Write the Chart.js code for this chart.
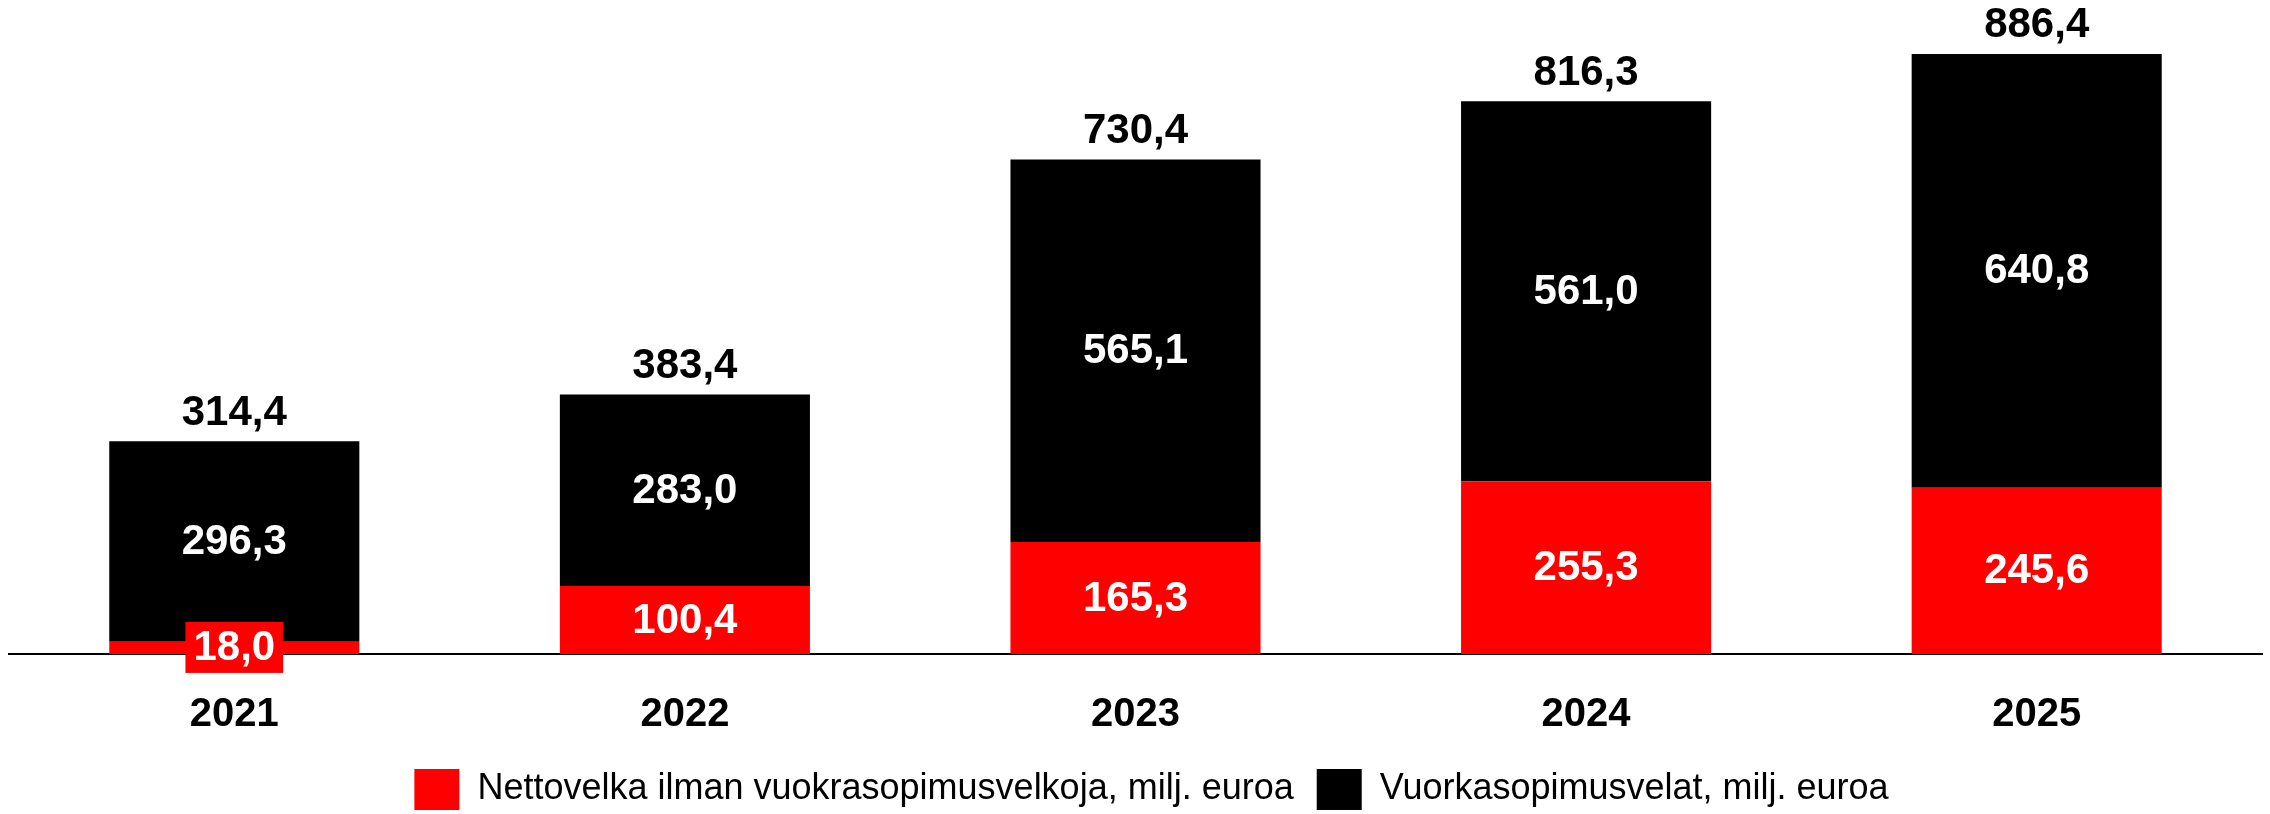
<!DOCTYPE html>
<html>
<head>
<meta charset="utf-8">
<script src="https://cdn.jsdelivr.net/npm/chart.js@4"></script>
<style>
  html, body { margin: 0; padding: 0; background: #fff; }
  #wrap { width: 2270px; height: 814px; }
</style>
</head>
<body>
<div id="wrap"><canvas id="myChart" width="2270" height="814"></canvas></div>
<script>
const years = ["2021", "2022", "2023", "2024", "2025"];
const nettovelka = [18.0, 100.4, 165.3, 255.3, 245.6];
const vuokrasopimus = [296.3, 283.0, 565.1, 561.0, 640.8];
const totals = [314.4, 383.4, 730.4, 816.3, 886.4];

const FONT = "'Liberation Sans', Arial, sans-serif";

function fi(v) {
  return v.toFixed(1).replace(".", ",");
}

// value labels inside the segments and totals above the bars
const barLabels = {
  id: "barLabels",
  afterLayout(chart) {
    // legend sits a bit right of centre in the original
    chart.legend.left += 16;
    chart.legend.right += 16;
  },
  afterDatasetsDraw(chart) {
    const ctx = chart.ctx;
    ctx.save();
    ctx.font = "bold 42px " + FONT;
    ctx.textAlign = "center";
    ctx.textBaseline = "middle";
    chart.data.datasets.forEach((ds, i) => {
      const meta = chart.getDatasetMeta(i);
      meta.data.forEach((bar, j) => {
        const txt = fi(ds.data[j]);
        const cy = (bar.y + bar.base) / 2;
        const h = Math.abs(bar.base - bar.y);
        if (h < 40) {
          const w = ctx.measureText(txt).width + 16;
          ctx.fillStyle = ds.backgroundColor;
          ctx.fillRect(bar.x - w / 2, cy - 26, w, 51);
        }
        ctx.fillStyle = "#fff";
        ctx.fillText(txt, bar.x, cy + 1);
      });
    });
    const top = chart.getDatasetMeta(chart.data.datasets.length - 1);
    ctx.fillStyle = "#000";
    top.data.forEach((bar, j) => {
      ctx.fillText(fi(totals[j]), bar.x, bar.y - 28);
    });
    ctx.restore();
  },
};

var ctx = document.getElementById("myChart").getContext("2d");

var myChart = new Chart(ctx, {
  type: "bar",
  data: {
    labels: years,
    datasets: [
      {
        label: "Nettovelka ilman vuokrasopimusvelkoja, milj. euroa",
        data: nettovelka,
        backgroundColor: "#ff0000",
        categoryPercentage: 0.555,
        barPercentage: 1,
      },
      {
        label: "Vuorkasopimusvelat, milj. euroa",
        data: vuokrasopimus,
        backgroundColor: "#000000",
        categoryPercentage: 0.555,
        barPercentage: 1,
      },
    ],
  },
  options: {
    responsive: false,
    animation: false,
    layout: { padding: { left: 9, right: 8, top: 0, bottom: -6 } },
    scales: {
      x: {
        stacked: true,
        grid: { display: false },
        border: { display: true, color: "#000", width: 2 },
        ticks: {
          color: "#000",
          padding: 29,
          font: { family: FONT, size: 40, weight: "bold" },
        },
        afterFit(scale) {
          scale.height = 92;
        },
      },
      y: {
        stacked: true,
        display: false,
        min: 0,
        max: 966,
      },
    },
    plugins: {
      tooltip: { enabled: false },
      legend: {
        position: "bottom",
        labels: {
          color: "#000",
          boxWidth: 45,
          boxHeight: 41,
          padding: 23,
          font: { family: FONT, size: 36 },
        },
      },
    },
  },
  plugins: [barLabels],
});
</script>
</body>
</html>
